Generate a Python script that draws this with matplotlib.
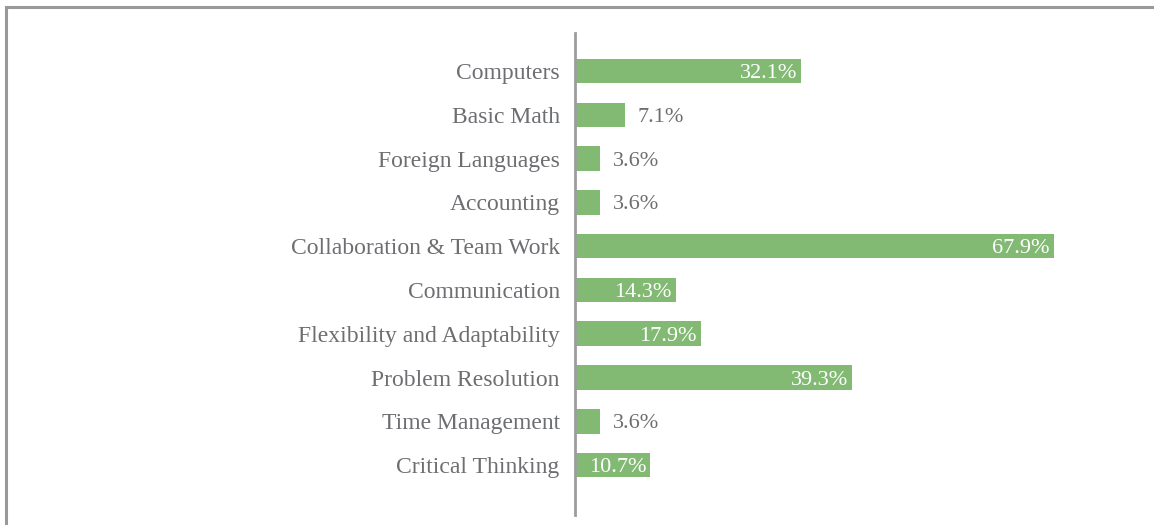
import matplotlib.pyplot as plt
from matplotlib.lines import Line2D

categories = [
    "Computers",
    "Basic Math",
    "Foreign Languages",
    "Accounting",
    "Collaboration & Team Work",
    "Communication",
    "Flexibility and Adaptability",
    "Problem Resolution",
    "Time Management",
    "Critical Thinking",
]
values = [32.1, 7.1, 3.6, 3.6, 67.9, 14.3, 17.9, 39.3, 3.6, 10.7]

bar_color = "#82ba74"
text_color = "#6d6e71"
plt.rcParams["font.family"] = ["Liberation Serif", "DejaVu Serif"]

fig = plt.figure(figsize=(11.54, 5.25), dpi=100)
W, H = 1154, 525

# frame of the outer box (top and left edges visible)
fig.add_artist(Line2D([6 / W, 6 / W], [0, 1 - 7 / H], transform=fig.transFigure,
                      color="#999999", lw=2.2))
fig.add_artist(Line2D([6 / W, 1], [1 - 7 / H, 1 - 7 / H], transform=fig.transFigure,
                      color="#999999", lw=2.2))

# axes: y spans 33..515 px from top
ax = fig.add_axes([575 / W, 1 - 515 / H, 564 / W, (515 - 33) / H])
n = len(categories)
ypos = list(range(n))
ax.barh(ypos, values, height=0.56, color=bar_color)
ax.set_xlim(0, 80)
ax.set_ylim(n - 1 + 1.14, -0.87)

ax.set_yticks(ypos)
ax.set_yticklabels(categories, fontsize=17, color=text_color)
ax.tick_params(axis="y", length=0, pad=11)
for t in ax.get_yticklabels():
    t.set_verticalalignment("center_baseline")
ax.set_xticks([])
for s in ["top", "right", "bottom"]:
    ax.spines[s].set_visible(False)
ax.spines["left"].set_color("#9d9d9f")
ax.spines["left"].set_linewidth(2)

for y, v in zip(ypos, values):
    label = f"{v:.1f}%"
    if v < 9:
        ax.annotate(label, (v, y), xytext=(9, 0), textcoords="offset points",
                    ha="left", va="center_baseline", fontsize=16, color=text_color)
    else:
        ax.annotate(label, (v, y), xytext=(-3, 0), textcoords="offset points",
                    ha="right", va="center_baseline", fontsize=16, color="white")

fig.savefig("out.png", dpi=100)
